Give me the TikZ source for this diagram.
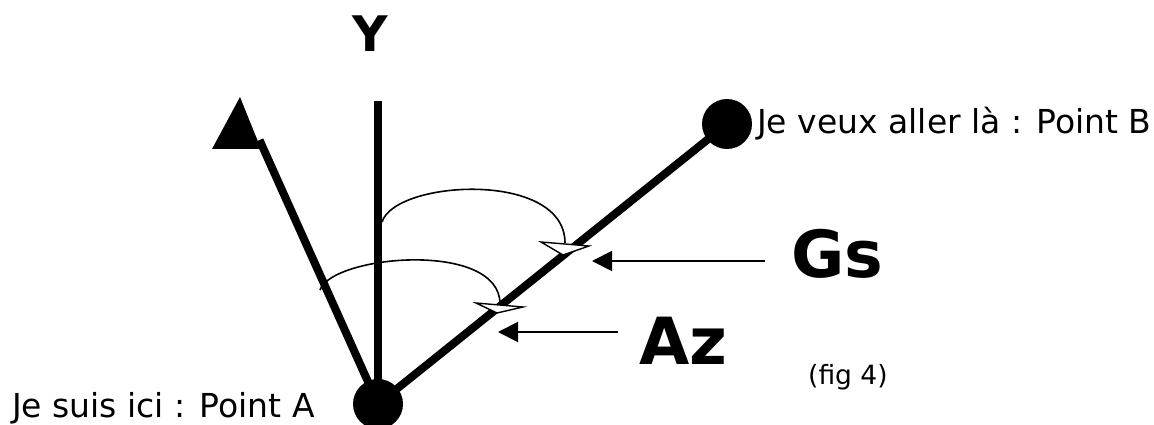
\documentclass[tikz,border=0pt]{standalone}
\usepackage{fontspec}
\setmainfont{DejaVu Sans}
\usetikzlibrary{arrows.meta}
\begin{document}
\begin{tikzpicture}[x=1pt,y=-1pt,
  thickline/.style={line width=8pt},
  dot/.style={circle,fill=black,inner sep=0pt,minimum size=50pt},
  labeltext/.style={font=\fontsize{33}{38}\selectfont, inner sep=0pt, anchor=base west},
  bigtext/.style={font=\fontsize{65}{70}\selectfont\bfseries, inner sep=0pt, anchor=base west},
  pointer/.style={line width=2pt, -{Triangle[length=20pt,width=20pt]}},
  anglearc/.style={line width=1.6pt},
  openhead/.style={draw=black, fill=white, line width=1.4pt, line join=miter}]
\useasboundingbox (0,0) rectangle (1154,425);
% points
\node[dot] (A) at (378,404) {};
\node[dot] (B) at (727,124) {};
\coordinate (ytop) at (378,101);
\coordinate (lefttip) at (240,97);
\coordinate (leftbase) at (259.5,140);
% lines
\draw[thickline] (A.center) -- (ytop);
\draw[thickline] (A.center) -- (B.center);
\draw[thickline] (A.center) -- (leftbase);
\fill (lefttip) -- (212,149) -- (261,149) -- cycle;
% texts
\node[font=\fontsize{49}{54}\selectfont\bfseries, inner sep=0pt, anchor=base] (Y) at (370,52) {Y};
\node[labeltext] (tA) at (12,417) {Je suis ici : Point A};
\node[labeltext] (tB) at (757,134) {Je veux aller là : Point B};
\node[bigtext] (Gs) at (791,277) {Gs};
\node[bigtext] (Az) at (639,364) {Az};
\node[font=\fontsize{26.5}{30}\selectfont, inner sep=0pt, anchor=base west] (fig) at (808,384) {(fig 4)};
% angle arcs
\draw[anglearc] (382,222) .. controls (395,180) and (565,170) .. (565,243);
\draw[openhead] (541,242) -- (589,246) -- (563,255) -- cycle;
\draw[anglearc] (320,290) .. controls (332,255) and (500,240) .. (500,304);
\draw[openhead] (476,303) -- (523,307) -- (497,313) -- cycle;
% pointers
\coordinate (gsend) at (765,261);
\coordinate (gstip) at (592,261);
\coordinate (azend) at (618,332);
\coordinate (aztip) at (498,332);
\draw[pointer] (gsend) -- (gstip);
\draw[pointer] (azend) -- (aztip);
\end{tikzpicture}
\end{document}
